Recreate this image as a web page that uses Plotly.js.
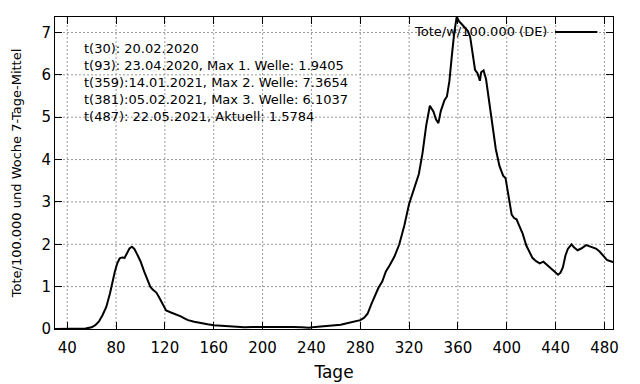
<!DOCTYPE html>
<html>
<head>
<meta charset="utf-8">
<script src="https://cdn.plot.ly/plotly-3.0.1.min.js"></script>
<style>
html,body{margin:0;padding:0;background:#fff}
#chart{width:640px;height:384px}
#chart .gridlayer path{shape-rendering:auto !important}
</style>
</head>
<body>
<div id="chart"></div>
<script>
// Tage (day index) and 7-day mean deaths per 100,000
const days = [30,40,50,55,60,63,66,69,72,75,79,81,83,85,87,89,91,93,95,97,100,103,106,108,110,113,115,117,119,121,125,130,133,136,139,144,150,155,160,165,170,175,180,185,192,200,210,218,225,232,238,243,250,257,264,270,275,280,283,286,289,292,295,298,301,304,308,312,316,320,324,328,331,334,337,340,342,344,346,349,351,353,355,357,359,361,363,365,368,370,372,374,376,378,379,381,383,385,388,391,394,397,399,401,404,406,408,410,413,416,419,421,424,427,430,433,436,439,442,444,446,448,450,453,455,458,461,465,469,473,476,479,482,485,487];
const deaths = [0,0,0,0.01,0.04,0.09,0.18,0.33,0.52,0.84,1.35,1.55,1.67,1.69,1.68,1.78,1.90,1.9405,1.89,1.78,1.60,1.36,1.12,1.00,0.93,0.86,0.76,0.64,0.52,0.44,0.39,0.34,0.30,0.25,0.21,0.17,0.13,0.11,0.09,0.08,0.07,0.06,0.04,0.04,0.045,0.05,0.05,0.05,0.05,0.04,0.03,0.05,0.07,0.08,0.10,0.14,0.17,0.21,0.26,0.36,0.58,0.80,0.98,1.12,1.36,1.50,1.71,2.00,2.43,2.95,3.30,3.66,4.15,4.80,5.27,5.13,4.95,4.86,5.15,5.40,5.49,5.85,6.45,7.00,7.3654,7.26,7.20,7.14,7.04,6.90,6.47,6.12,6.04,5.86,6.06,6.1037,5.90,5.50,4.86,4.25,3.85,3.62,3.56,3.20,2.70,2.62,2.59,2.45,2.25,1.97,1.78,1.68,1.60,1.55,1.59,1.51,1.42,1.36,1.28,1.33,1.46,1.73,1.89,2.00,1.93,1.86,1.90,1.98,1.94,1.90,1.83,1.73,1.63,1.60,1.5784];

const seriesName = "Tote/w/100.000 (DE)";
const infoLines = [
  "t(30): 20.02.2020",
  "t(93): 23.04.2020, Max 1. Welle: 1.9405",
  "t(359):14.01.2021, Max 2. Welle: 7.3654",
  "t(381):05.02.2021, Max 3. Welle: 6.1037",
  "t(487): 22.05.2021, Aktuell: 1.5784"
];
const xTitle = "Tage";
const yTitle = "Tote/100.000 und Woche 7-Tage-Mittel";

const FONT = "DejaVu Sans, sans-serif";

const trace = {
  x: days, y: deaths, type: "scatter", mode: "lines",
  name: seriesName,
  line: {color: "#000000", width: 2},
  hoverinfo: "skip"
};

const axisCommon = {
  showline: true, linecolor: "#000", linewidth: 1, mirror: "ticks",
  ticks: "inside", ticklen: 7, tickwidth: 1, tickcolor: "#000",
  showgrid: true, gridcolor: "#999999", griddash: "2px,2px", gridwidth: 1,
  zeroline: false,
  tickfont: {family: FONT, size: 15, color: "#000"}
};

const layout = {
  width: 640, height: 384,
  margin: {l: 55, r: 27, t: 17, b: 55},
  paper_bgcolor: "#fff", plot_bgcolor: "#fff",
  showlegend: false,
  font: {family: FONT, color: "#000"},
  xaxis: Object.assign({}, axisCommon, {
    range: [30, 487], tick0: 40, dtick: 40,
    // major ticks only place the labels a little lower; the visible inward ticks are minor ones
    ticks: "outside", ticklen: 5, tickcolor: "rgba(0,0,0,0)",
    minor: {ticks: "inside", ticklen: 7, tickwidth: 1, tickcolor: "#000",
            tick0: 40.0001, dtick: 40, showgrid: false},
    title: {text: xTitle, font: {family: FONT, size: 17, color: "#000"}, standoff: 10}
  }),
  yaxis: Object.assign({}, axisCommon, {
    range: [0, 7.3654], tick0: 0, dtick: 1,
    title: {text: yTitle, font: {family: FONT, size: 13, color: "#000"}, standoff: 16}
  }),
  shapes: [
    {type: "rect", xref: "paper", yref: "paper", x0: 0.591, x1: 0.99, y0: 0.915, y1: 1,
     fillcolor: "#fff", line: {width: 0}, layer: "between"},
    {type: "line", xref: "paper", yref: "paper", x0: 0.896, x1: 0.972, y0: 0.952, y1: 0.952,
     line: {color: "#000", width: 2}}
  ],
  annotations: [
    {xref: "paper", yref: "paper", x: 0.048, y: 0.93, xanchor: "left", yanchor: "top",
     align: "left", showarrow: false, text: infoLines.join("<br>"),
     font: {family: FONT, size: 13, color: "#000"}},
    {xref: "paper", yref: "paper", x: 0.886, y: 0.952, xanchor: "right", yanchor: "middle",
     showarrow: false, text: seriesName,
     font: {family: FONT, size: 13, color: "#000"}}
  ]
};

Plotly.newPlot("chart", [trace], layout, {staticPlot: true, displayModeBar: false});
</script>
</body>
</html>
